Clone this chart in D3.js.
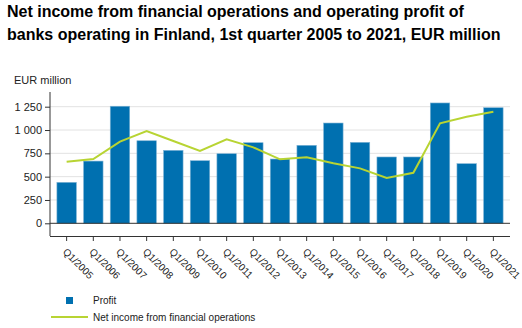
<!DOCTYPE html>
<html>
<head>
    <style>
        body { margin: 0; background: #fff; }
        svg text { font-family: "Liberation Sans", Arial, sans-serif; fill: #222; }
        .title { font-size: 16px; font-weight: bold; fill: #000; }
        .tick text { font-size: 11px; }
        .x-axis .tick text { font-size: 10px; }
        .legend text { font-size: 10px; }
    </style>
    <script src="https://d3js.org/d3.v7.min.js"></script>
</head>
<body>
    <svg width="522" height="328"></svg>
    <script>

        let quarters = ["Q1/2005", "Q1/2006", "Q1/2007", "Q1/2008", "Q1/2009", "Q1/2010",
            "Q1/2011", "Q1/2012", "Q1/2013", "Q1/2014", "Q1/2015", "Q1/2016",
            "Q1/2017", "Q1/2018", "Q1/2019", "Q1/2020", "Q1/2021"];
        let profit = [439, 667, 1255, 885, 782, 671, 746, 864, 689, 836, 1075, 868,
            711, 711, 1290, 639, 1239];
        let netIncome = [660, 689, 875, 989, 882, 775, 900, 814, 686, 707, 643, 589,
            485, 542, 1071, 1142, 1196];
        let yTicks = [0, 250, 500, 750, 1000, 1250];

        let svg = d3.select("svg");

        let x = d3.scaleBand()
            .domain(quarters)
            .range([53.3, 506.7])
            .paddingInner(0.27)
            .paddingOuter(0.135);

        let y = d3.scaleLinear()
            .domain([0, 1250])
            .range([223.3, 106.7]);

        // title
        let title = svg.append("g");
        title.append("text").attr("class", "title").attr("x", 7).attr("y", 17)
            .text("Net income from financial operations and operating profit of");
        title.append("text").attr("class", "title").attr("x", 7).attr("y", 40)
            .text("banks operating in Finland, 1st quarter 2005 to 2021, EUR million");

        svg.append("text")
            .attr("x", 14).attr("y", 84)
            .style("font-size", "11px")
            .text("EUR million");

        // gridlines
        svg.append("g")
            .selectAll("line")
            .data(yTicks.filter(d => d > 0))
            .join("line")
            .attr("x1", 50).attr("x2", 510)
            .attr("y1", d => y(d)).attr("y2", d => y(d))
            .attr("stroke", "#e2e2e2");

        // y axis
        let yAxis = svg.append("g")
            .attr("transform", "translate(50,0)")
            .call(d3.axisLeft(y)
                .tickValues(yTicks)
                .tickSize(5)
                .tickFormat(d => d3.format(",")(d).replace(",", " ")));
        yAxis.select(".domain").remove();
        yAxis.selectAll(".tick line").attr("stroke", "#333");
        yAxis.selectAll(".tick text").attr("x", -8);
        svg.append("line")
            .attr("x1", 50).attr("x2", 50)
            .attr("y1", 92).attr("y2", 236)
            .attr("stroke", "#333");

        // bars
        svg.append("g")
            .selectAll("rect")
            .data(profit)
            .join("rect")
            .attr("x", (d, i) => x(quarters[i]))
            .attr("width", x.bandwidth())
            .attr("y", d => y(d))
            .attr("height", d => y(0) - y(d))
            .attr("fill", "#0070b0")
            .attr("stroke", "#7fb3d5")
            .attr("stroke-width", 0.6);

        // zero line
        svg.append("line")
            .attr("x1", 50).attr("x2", 510)
            .attr("y1", y(0)).attr("y2", y(0))
            .attr("stroke", "#333");

        // net income line
        let line = d3.line()
            .x((d, i) => x(quarters[i]) + x.bandwidth() / 2)
            .y(d => y(d));
        svg.append("path")
            .datum(netIncome)
            .attr("d", line)
            .attr("fill", "none")
            .attr("stroke", "#b8d433")
            .attr("stroke-width", 2);

        // x axis
        let xAxis = svg.append("g")
            .attr("class", "x-axis")
            .attr("transform", "translate(0,236)")
            .call(d3.axisBottom(x).tickSize(5).tickSizeOuter(0));
        xAxis.select(".domain").attr("d", "M50,0.5H510").attr("stroke", "#333");
        xAxis.selectAll(".tick line").attr("stroke", "#333");
        xAxis.selectAll(".tick text")
            .attr("text-anchor", "start")
            .attr("transform", "translate(-2,14) rotate(45)")
            .attr("dy", "0.35em")
            .attr("y", 0)
            .attr("x", 0);

        // legend
        let legend = svg.append("g").attr("class", "legend");
        legend.append("rect")
            .attr("x", 66).attr("y", 297)
            .attr("width", 7).attr("height", 7)
            .attr("fill", "#0070b0");
        legend.append("text").attr("x", 93).attr("y", 304).text("Profit");
        legend.append("line")
            .attr("x1", 51).attr("x2", 88)
            .attr("y1", 317).attr("y2", 317)
            .attr("stroke", "#b8d433").attr("stroke-width", 2);
        legend.append("text").attr("x", 93).attr("y", 320.5).text("Net income from financial operations");
     </script>
</body>
</html>
